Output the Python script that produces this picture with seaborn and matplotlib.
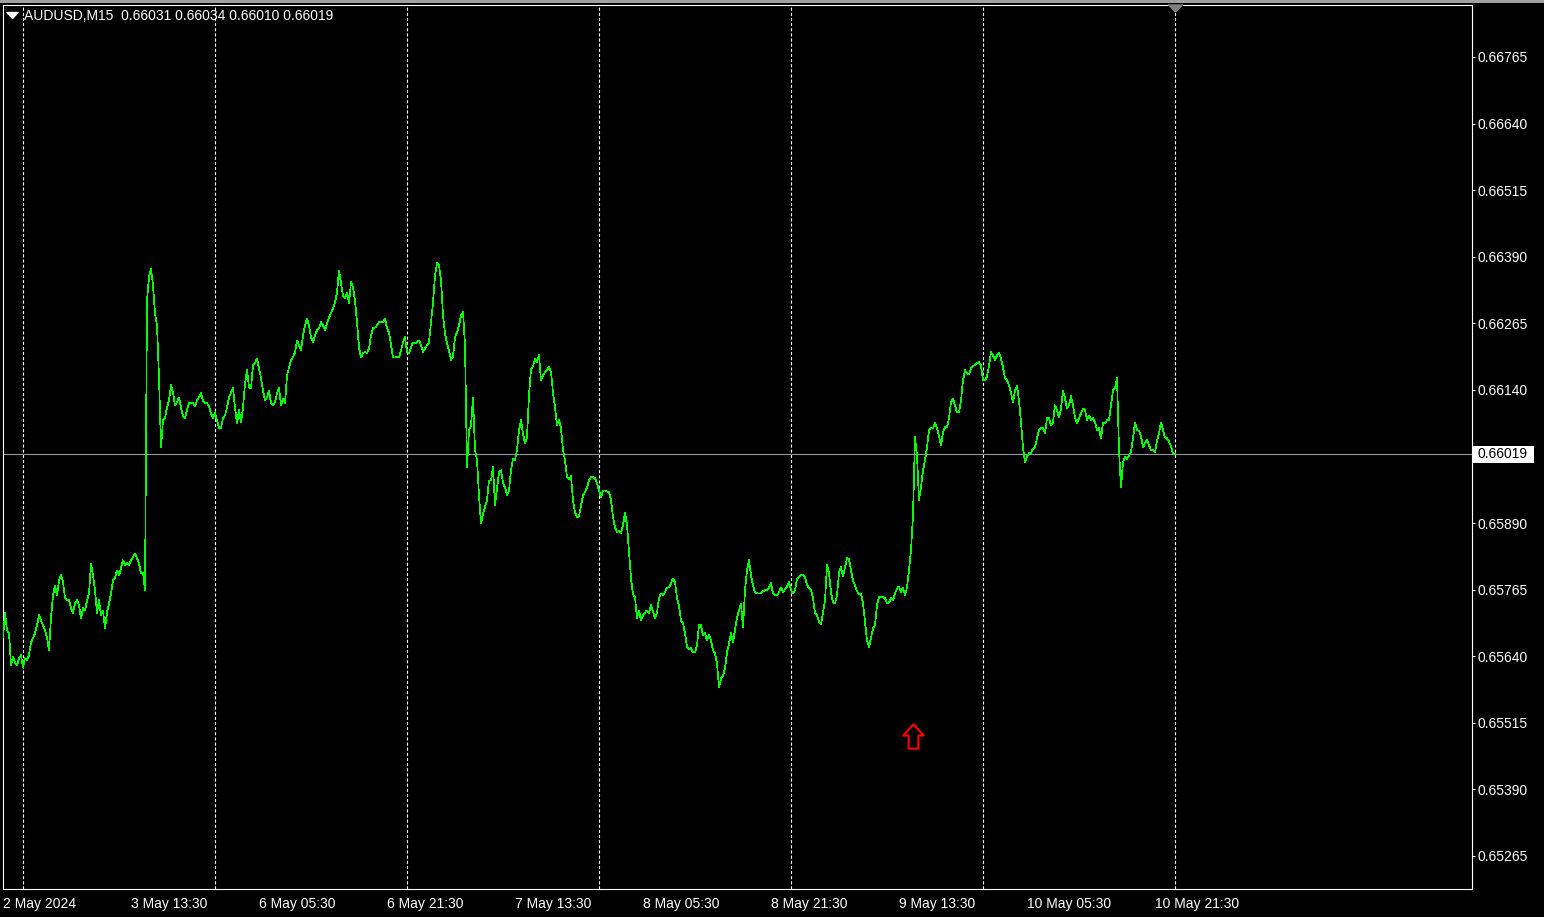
import numpy as np
import pandas as pd
import matplotlib
matplotlib.use("Agg")
import matplotlib.pyplot as plt
import matplotlib.transforms as mtransforms
from matplotlib.path import Path
from matplotlib.patches import Rectangle
from matplotlib.lines import Line2D
import seaborn as sns

# ---------------- data (closes of AUDUSD M15, in units of 0.00001) ----------------
symbol = "AUDUSD,M15"
last_ohlc = ["0.66031", "0.66034", "0.66010", "0.66019"]
bid_price = 0.66019

may02_close = [65675, 65721, 65689, 65683, 65623, 65638, 65628, 65623, 65636, 65642]
may03_close = [65619, 65636, 65632, 65642, 65666, 65674, 65683, 65698, 65717, 65707,
               65698, 65689, 65675, 65651, 65713, 65754, 65773, 65754, 65782, 65792,
               65779, 65749, 65745, 65745, 65730, 65721, 65739, 65745, 65736, 65711,
               65730, 65726, 65745, 65758, 65814, 65792, 65764, 65721, 65745, 65717,
               65726, 65692, 65722, 65739, 65758, 65782, 65788, 65801, 65792, 65805,
               65820, 65811, 65816, 65811, 65820, 65826, 65833, 65824, 65814, 65796,
               65797, 65764, 66308, 66351, 66368, 66336, 66284, 66261, 66164, 66032,
               66083, 66087, 66107, 66120, 66149, 66135, 66111, 66117, 66126, 66107,
               66090, 66087, 66102, 66115, 66115, 66115, 66109, 66120, 66126, 66134,
               66120, 66115, 66115, 66109, 66096, 66087]
may06_close = [66096, 66083, 66068, 66068, 66088, 66092, 66107, 66126, 66135, 66143,
               66107, 66077, 66102, 66079, 66107, 66152, 66177, 66145, 66143, 66186,
               66190, 66199, 66180, 66162, 66139, 66120, 66126, 66139, 66115, 66111,
               66117, 66134, 66143, 66111, 66124, 66115, 66167, 66182, 66196, 66201,
               66211, 66233, 66224, 66214, 66242, 66261, 66274, 66261, 66239, 66229,
               66242, 66252, 66256, 66267, 66261, 66252, 66265, 66276, 66284, 66293,
               66304, 66323, 66364, 66340, 66317, 66312, 66323, 66303, 66342, 66333,
               66308, 66267, 66220, 66201, 66209, 66211, 66209, 66218, 66242, 66256,
               66257, 66261, 66267, 66267, 66267, 66274, 66256, 66248, 66224, 66201,
               66201, 66203, 66201, 66214, 66229, 66239]
may07_close = [66211, 66209, 66220, 66229, 66227, 66229, 66233, 66224, 66211, 66218,
               66224, 66229, 66267, 66304, 66355, 66378, 66374, 66346, 66280, 66246,
               66227, 66214, 66196, 66203, 66239, 66248, 66261, 66280, 66286, 66224,
               65995, 66064, 66073, 66126, 66027, 66008, 65942, 65889, 65908, 65920,
               65933, 65970, 65970, 65995, 65923, 65955, 65985, 65989, 65965, 65957,
               65942, 65951, 65989, 66011, 66008, 66027, 66064, 66083, 66058, 66040,
               66051, 66130, 66180, 66184, 66199, 66192, 66205, 66158, 66167, 66173,
               66177, 66184, 66173, 66135, 66107, 66073, 66083, 66068, 66027, 66008,
               65976, 65972, 65978, 65933, 65910, 65901, 65903, 65923, 65942, 65948,
               65957, 65970, 65976, 65976, 65974, 65965]
may08_close = [65951, 65938, 65951, 65951, 65949, 65948, 65933, 65901, 65882, 65873,
               65875, 65871, 65886, 65910, 65886, 65835, 65786, 65756, 65751, 65711,
               65726, 65707, 65717, 65722, 65726, 65721, 65736, 65724, 65711, 65722,
               65749, 65758, 65754, 65760, 65769, 65769, 65777, 65786, 65779, 65749,
               65734, 65707, 65702, 65683, 65658, 65653, 65655, 65647, 65647, 65660,
               65698, 65698, 65679, 65683, 65670, 65681, 65670, 65651, 65645, 65627,
               65581, 65598, 65604, 65617, 65647, 65664, 65683, 65666, 65689, 65713,
               65726, 65739, 65694, 65764, 65801, 65820, 65792, 65773, 65760, 65758,
               65758, 65758, 65762, 65764, 65764, 65769, 65777, 65758, 65754, 65754,
               65760, 65769, 65760, 65766, 65771, 65779]
may09_close = [65764, 65758, 65764, 65786, 65788, 65792, 65792, 65788, 65775, 65767,
               65764, 65749, 65721, 65717, 65704, 65700, 65722, 65745, 65811, 65796,
               65760, 65741, 65739, 65754, 65797, 65807, 65790, 65807, 65824, 65822,
               65801, 65782, 65773, 65762, 65756, 65758, 65739, 65704, 65670, 65657,
               65675, 65692, 65698, 65736, 65751, 65751, 65751, 65749, 65739, 65741,
               65749, 65745, 65758, 65767, 65771, 65760, 65769, 65754, 65769, 65801,
               65839, 65904, 66051, 66017, 65933, 65957, 65989, 66008, 66032, 66064,
               66068, 66068, 66079, 66068, 66053, 66036, 66060, 66070, 66070, 66087,
               66117, 66124, 66111, 66098, 66098, 66120, 66158, 66177, 66171, 66169,
               66180, 66186, 66186, 66190, 66192, 66186]
may10_close = [66158, 66158, 66165, 66186, 66211, 66205, 66196, 66205, 66209, 66199,
               66182, 66162, 66158, 66149, 66134, 66117, 66139, 66147, 66120, 66079,
               66032, 66004, 66015, 66021, 66021, 66030, 66032, 66049, 66064, 66068,
               66068, 66058, 66087, 66087, 66073, 66079, 66111, 66102, 66088, 66105,
               66139, 66124, 66105, 66111, 66128, 66111, 66088, 66077, 66087, 66096,
               66105, 66102, 66083, 66092, 66083, 66087, 66079, 66064, 66068, 66049,
               66079, 66077, 66083, 66083, 66111, 66139, 66143, 66162, 66027, 65957,
               66004, 66015, 66010, 66017, 66023, 66049, 66079, 66064, 66064, 66053,
               66032, 66040, 66047, 66036, 66027, 66027, 66023, 66045, 66058, 66079,
               66064, 66051, 66049, 66043, 66034, 66021, 66019]

time_tick_bars = [0, 64, 128, 192, 256, 320, 384, 448, 512, 576]
time_tick_labels = ["2 May 2024", "3 May 13:30", "6 May 05:30", "6 May 21:30",
                    "7 May 13:30", "8 May 05:30", "8 May 21:30", "9 May 13:30",
                    "10 May 05:30", "10 May 21:30"]
day_separator_bars = [10, 106, 202, 298, 394, 490, 586]
price_ticks = [0.66765, 0.66640, 0.66515, 0.66390, 0.66265, 0.66140,
               0.65890, 0.65765, 0.65640, 0.65515, 0.65390, 0.65265]
signal_bar = 455
signal_price = 0.65490
shift_bar = 586

closes_pts = (may02_close + may03_close + may06_close + may07_close +
              may08_close + may09_close + may10_close)
df = pd.DataFrame({"bar": np.arange(len(closes_pts)),
                   "close": np.array(closes_pts) / 1e5})

# ---------------- style ----------------
sns.set_theme(style="dark")
plt.rcParams["font.family"] = ["Liberation Sans", "DejaVu Sans"]
plt.rcParams["lines.scale_dashes"] = False

W, H = 1544, 917
fig = plt.figure(figsize=(W / 100, H / 100), dpi=100, facecolor="black")
left_px, right_px, top_px, bottom_px = 2.5, 1471.5, 5.0, 889.0
ax = fig.add_axes([left_px / W, 1 - bottom_px / H,
                   (right_px - left_px) / W, (bottom_px - top_px) / H])
ax.set_facecolor("black")
ax.grid(False)

# day separators
for b in day_separator_bars:
    ax.axvline(b, color="white", lw=0.8, ls=(0, (2.2, 1.5)), zorder=1)

# bid line
ax.axhline(bid_price, color="#8f98a3", lw=0.8, zorder=2)

# price line
sns.lineplot(data=df, x="bar", y="close", ax=ax, color="#00ff00",
             linewidth=0.5, estimator=None, sort=False, zorder=3,
             antialiased=False)

# signal arrow (hollow red up arrow)
arrow_path = Path([(0, 0.5), (0.42, 0.04), (0.2, 0.04), (0.2, -0.5),
                   (-0.2, -0.5), (-0.2, 0.04), (-0.42, 0.04), (0, 0.5)],
                  closed=True)
ax.plot([signal_bar], [signal_price], marker=arrow_path, markersize=17.5,
        markerfacecolor="black", markeredgecolor="#ff0000",
        markeredgewidth=1.5, linestyle="none", zorder=4)

ax.set_xlim(-0.25, (right_px - 3.0) / 2.0)
ax.set_ylim(0.6520292, 0.6686263)

# axes frame
for s in ax.spines.values():
    s.set_color("white")
    s.set_linewidth(0.8)

ax.yaxis.tick_right()
ax.set_yticks(price_ticks)
ax.set_yticklabels([f"{p:.5f}" for p in price_ticks])
ax.set_xticks(time_tick_bars)
ax.set_xticklabels(time_tick_labels)
for lbl in ax.get_xticklabels():
    lbl.set_horizontalalignment("left")
ax.tick_params(axis="y", colors="white", length=2.5, width=0.8, pad=2.0,
               labelsize=10, direction="out", labelcolor="white")
ax.tick_params(axis="x", colors="white", length=3.0, width=0.8, pad=2.5,
               labelsize=10, direction="out", labelcolor="white")
ax.set_xlabel("")
ax.set_ylabel("")

# bid price label box on the price scale
blend = mtransforms.blended_transform_factory(ax.transAxes, ax.transData)
axw = right_px - left_px
px_price = (0.6686263 - 0.6520292) / (bottom_px - top_px)
ax.add_patch(Rectangle(((1473 - left_px) / axw, bid_price - 8.5 * px_price),
                       61 / axw, 17 * px_price, transform=blend,
                       facecolor="white", edgecolor="none", clip_on=False,
                       zorder=5))
ax.text((1477.0 - left_px) / axw, bid_price, f"{bid_price:.5f}", transform=blend,
        ha="left", va="center", color="black", fontsize=10, clip_on=False,
        zorder=6)

# chart shift marker at top
shift_path = Path([(-0.5, 0.25), (0.5, 0.25), (0, -0.25), (-0.5, 0.25)], closed=True)
ax.plot([shift_bar], [1 - 3.5 / (bottom_px - top_px)], marker=shift_path,
        markersize=10, color="#808080", linestyle="none",
        transform=mtransforms.blended_transform_factory(ax.transData, ax.transAxes),
        clip_on=False, zorder=6)

# window top strip
fig.patches.append(Rectangle((0, 1 - 3 / H), 1, 3 / H, transform=fig.transFigure,
                             facecolor="#a0a0a0", edgecolor="none"))

# header
tri_path = Path([(-0.5, 0.27), (0.5, 0.27), (0, -0.27), (-0.5, 0.27)], closed=True)
fig.add_artist(Line2D([11.5 / W], [1 - 15 / H], marker=tri_path, markersize=8,
                      color="white", linestyle="none", transform=fig.transFigure))
fig.text(24 / W, 1 - 16 / H, f"{symbol}  " + " ".join(last_ohlc), color="white",
         fontsize=10, ha="left", va="center")

fig.savefig("out.png", dpi=100, facecolor="black")
